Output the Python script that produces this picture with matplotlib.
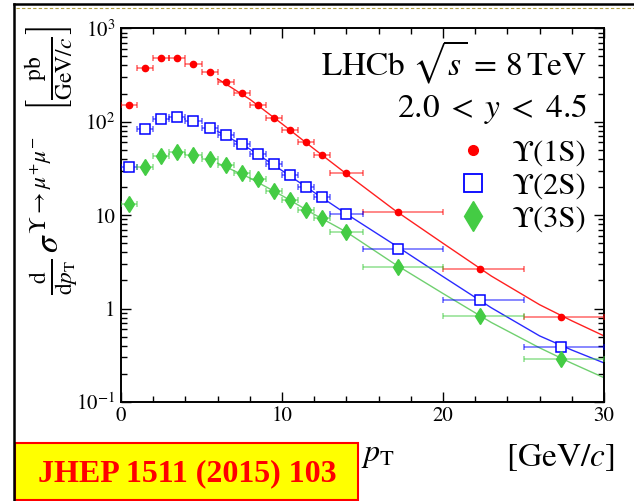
import numpy as np
import matplotlib.pyplot as plt
from matplotlib.lines import Line2D
from matplotlib.patches import Rectangle

plt.rcParams['font.family'] = ['STIXGeneral', 'DejaVu Serif']
plt.rcParams['mathtext.fontset'] = 'stix'

# bins in pT [GeV/c]
pt_lo = [0, 1, 2, 3, 4, 5, 6, 7, 8, 9, 10, 11, 12, 13, 15, 20, 25]
pt_hi = [1, 2, 3, 4, 5, 6, 7, 8, 9, 10, 11, 12, 13, 15, 20, 25, 30]
pt = [0.5, 1.5, 2.5, 3.5, 4.5, 5.5, 6.5, 7.5, 8.5, 9.5, 10.5, 11.5, 12.5,
      14.0, 17.2, 22.3, 27.3]

# dsigma/dpT [pb/(GeV/c)]
ups1s = [151, 378, 484, 484, 418, 341, 264, 204, 151, 110, 81.5, 60.5, 43.7,
         28.0, 10.7, 2.66, 0.815]
ups2s = [32.4, 82.8, 106, 111, 102, 86, 72, 57.7, 44.7, 34.9, 26.6, 20.1,
         15.5, 10.3, 4.36, 1.23, 0.388]
ups3s = [13.3, 32.9, 43.2, 47, 44, 39.5, 34, 28, 24.1, 18.1, 14.7, 11.3,
         9.35, 6.53, 2.79, 0.843, 0.292]

# fit curves
fit_pt = [6, 8, 10, 12, 14, 17, 20, 23, 26, 28, 30]
fit1s = [288, 174, 95, 51, 27.7, 11.3, 5.0, 2.23, 1.1, 0.74, 0.51]
fit2s = [79, 51, 30, 17.5, 10.3, 4.8, 2.2, 1.02, 0.51, 0.36, 0.262]
fit3s = [36, 25, 16.2, 10.2, 6.6, 3.0, 1.45, 0.71, 0.38, 0.26, 0.182]

labels = ['ϒ(1S)', 'ϒ(2S)', 'ϒ(3S)']
colors = ['#ff0000', '#0000ff', '#44cc44']
linecols = ['#ff2020', '#2a2aff', '#70d070']

fig = plt.figure(figsize=(6.34, 5.01), dpi=100)
ax = fig.add_axes([121/634, 1 - 402/501, 483/634, 373.7/501])

pt = np.array(pt)
xerr = [pt - np.array(pt_lo), np.array(pt_hi) - pt]

series = [ups1s, ups2s, ups3s]
fits = [fit1s, fit2s, fit3s]
marks = [dict(marker='o', ms=4.5, mfc=colors[0], mec=colors[0]),
         dict(marker='s', ms=7, mfc='white', mec=colors[1], mew=1.1),
         dict(marker='d', ms=8, mfc=colors[2], mec=colors[2])]

for y, f, c, lc, m in zip(series, fits, colors, linecols, marks):
    ax.plot(fit_pt, f, color=lc, lw=1.0, zorder=2)
    ax.errorbar(pt, y, xerr=xerr, fmt='none', ecolor=c, alpha=0.55,
                elinewidth=1.2, capsize=2.5, capthick=1.2, zorder=3)
    ax.plot(pt, y, ls='none', zorder=4, **m)

ax.set_yscale('log')
ax.set_xlim(0, 30)
ax.set_ylim(0.1, 1000)
ax.set_xticks([0, 10, 20, 30])
ax.set_xticklabels(['0', '10', '20', '30'])
ax.set_xticks(np.arange(0, 31, 2), minor=True)
ax.set_yticks([0.1, 1, 10, 100, 1000])
ax.set_yticklabels(['$10^{-1}$', '1', '10', '$10^{2}$', '$10^{3}$'])
ax.tick_params(which='both', direction='in', top=True, right=True,
               labelsize=15, width=1.0)
ax.tick_params(which='major', length=7.5, pad=4)
ax.tick_params(which='minor', length=4)
ax.tick_params(axis='x', pad=3)
for s in ax.spines.values():
    s.set_linewidth(1.4)

ax.text(0.965, 0.874, r'LHCb $\sqrt{s}\,=\,8\,\mathrm{TeV}$', transform=ax.transAxes,
        ha='right', va='baseline', fontsize=24)
ax.text(0.965, 0.762, r'$2.0\;<\;y\;<\;4.5$', transform=ax.transAxes,
        ha='right', va='baseline', fontsize=24)

handles = [Line2D([], [], ls='none', marker='o', ms=7, color=colors[0]),
           Line2D([], [], ls='none', marker='s', ms=13, mfc='white',
                  mec=colors[1], mew=1.3),
           Line2D([], [], ls='none', marker='d', ms=15, color=colors[2])]
ax.legend(handles, labels, loc='upper right', bbox_to_anchor=(0.995, 0.745),
          frameon=False, fontsize=22, handlelength=1.0, handletextpad=0.75,
          labelspacing=0.15, borderpad=0)

fig.text(52/634, 1 - 26/501,
         r'$\frac{\mathrm{d}}{\mathrm{d}p_{\mathrm{T}}}\,\sigma^{\Upsilon\rightarrow\mu^{+}\mu^{-}}'
         r'\quad\left[\frac{\mathrm{pb}}{\mathrm{GeV}/c}\right]$',
         rotation=90, ha='center', va='top', fontsize=24)

fig.text(361/634, 1 - 461/501, r'$p_{\mathrm{T}}$', ha='left', va='baseline',
         fontsize=23)
fig.text(614/634, 1 - 466/501, r'$[\mathrm{GeV}/c]$', ha='right', va='baseline',
         fontsize=24)

# screenshot frame and journal tag
fig.add_artist(Line2D([14/634, 14/634], [0, 1 - 4/501], color='black', lw=1.8))
fig.add_artist(Line2D([14/634, 1], [1 - 4/501, 1 - 4/501], color='black', lw=1.8))
fig.add_artist(Line2D([16/634, 1], [1 - 7.5/501, 1 - 7.5/501], color='#b0a040',
                      lw=0.8, ls=(0, (3, 2))))
fig.add_artist(Rectangle((15/634, 0.002), 343/634, 57/501, transform=fig.transFigure,
                         facecolor='#ffff00', edgecolor='#ff0000', lw=1.5))
fig.text(187/634, 1 - 474/501, 'JHEP 1511 (2015) 103', ha='center', va='center',
         fontsize=23, fontweight='bold', color='#ff0000',
         family=['Liberation Serif', 'DejaVu Serif'])

fig.savefig('out.png', dpi=100)
